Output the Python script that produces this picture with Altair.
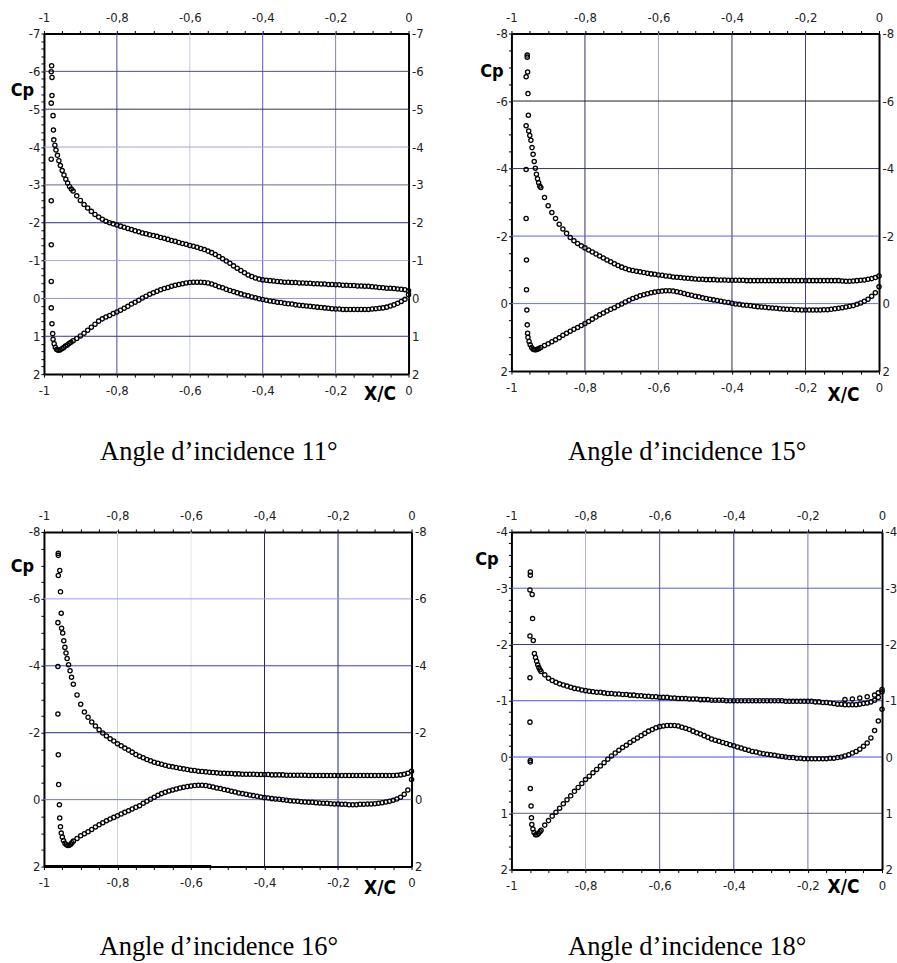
import altair as alt
import pandas as pd

# ---------------- data ----------------
XS = [-0.92, -0.91, -0.90, -0.89, -0.88, -0.87, -0.86, -0.85, -0.84, -0.83,
      -0.82, -0.81, -0.80, -0.79, -0.78, -0.77, -0.76, -0.75, -0.74, -0.73,
      -0.72, -0.71, -0.70, -0.69, -0.68, -0.67, -0.66, -0.65, -0.64, -0.63,
      -0.62, -0.61, -0.60, -0.59, -0.58, -0.57, -0.56, -0.55, -0.54, -0.53,
      -0.52, -0.51, -0.50, -0.49, -0.48, -0.47, -0.46, -0.45, -0.44, -0.43,
      -0.42, -0.41, -0.40, -0.39, -0.38, -0.37, -0.36, -0.35, -0.34, -0.33,
      -0.32, -0.31, -0.30, -0.29, -0.28, -0.27, -0.26, -0.25, -0.24, -0.23,
      -0.22, -0.21, -0.20, -0.19, -0.18, -0.17, -0.16, -0.15, -0.14, -0.13,
      -0.12, -0.11, -0.10, -0.09, -0.08, -0.07, -0.06, -0.05, -0.04, -0.03,
      -0.02, -0.01, 0.00]

# 11 deg
U11 = [-2.84, -2.71, -2.59, -2.48, -2.39, -2.30, -2.22, -2.15, -2.09, -2.04,
       -2.00, -1.97, -1.94, -1.91, -1.88, -1.85, -1.82, -1.79, -1.76, -1.73,
       -1.71, -1.68, -1.66, -1.64, -1.61, -1.59, -1.56, -1.53, -1.51, -1.48,
       -1.45, -1.43, -1.40, -1.38, -1.35, -1.32, -1.29, -1.25, -1.21, -1.16,
       -1.11, -1.05, -0.99, -0.93, -0.86, -0.80, -0.74, -0.68, -0.62, -0.58,
       -0.54, -0.51, -0.49, -0.48, -0.47, -0.46, -0.45, -0.44, -0.43, -0.43,
       -0.42, -0.42, -0.41, -0.41, -0.40, -0.40, -0.39, -0.39, -0.38, -0.38,
       -0.37, -0.37, -0.36, -0.36, -0.35, -0.35, -0.34, -0.34, -0.33, -0.33,
       -0.32, -0.32, -0.31, -0.30, -0.29, -0.28, -0.27, -0.27, -0.26, -0.25,
       -0.24, -0.23, -0.20]
L11 = [1.12, 1.06, 0.99, 0.92, 0.84, 0.76, 0.68, 0.60, 0.54, 0.49,
       0.45, 0.40, 0.36, 0.31, 0.26, 0.21, 0.15, 0.10, 0.05, -0.01,
       -0.06, -0.11, -0.15, -0.19, -0.23, -0.26, -0.29, -0.32, -0.35, -0.37,
       -0.39, -0.41, -0.42, -0.43, -0.43, -0.43, -0.42, -0.41, -0.38, -0.35,
       -0.31, -0.28, -0.24, -0.21, -0.18, -0.15, -0.12, -0.09, -0.07, -0.04,
       -0.02, 0.01, 0.03, 0.05, 0.07, 0.08, 0.10, 0.11, 0.13, 0.14,
       0.15, 0.17, 0.18, 0.19, 0.20, 0.21, 0.22, 0.23, 0.24, 0.25,
       0.26, 0.27, 0.28, 0.28, 0.29, 0.29, 0.29, 0.29, 0.29, 0.29,
       0.29, 0.29, 0.28, 0.27, 0.26, 0.25, 0.23, 0.20, 0.17, 0.13,
       0.08, 0.02, -0.10]
E11_X = [-0.979, -0.980, -0.978, -0.978, -0.980, -0.975, -0.974, -0.980, -0.980, -0.980,
         -0.980, -0.980, -0.978, -0.976,
         -0.973, -0.970, -0.967, -0.963, -0.959, -0.955, -0.950, -0.945, -0.940, -0.935,
         -0.930, -0.925,
         -0.975, -0.972, -0.969, -0.965, -0.961, -0.956, -0.951, -0.946, -0.941, -0.936,
         -0.931, -0.926]
E11_CP = [-6.15, -5.99, -5.84, -5.36, -5.16, -4.83, -4.45, -3.68, -2.58, -1.42,
          -0.45, 0.25, 0.67, 0.93,
          -4.19, -4.05, -3.92, -3.78, -3.64, -3.51, -3.38, -3.26, -3.15, -3.05,
          -2.96, -2.89,
          1.08, 1.20, 1.29, 1.35, 1.37, 1.36, 1.33, 1.30, 1.26, 1.23,
          1.19, 1.16]

# 15 deg
U15 = [-3.44, -3.14, -2.90, -2.70, -2.52, -2.35, -2.21, -2.08, -1.96, -1.86,
       -1.78, -1.71, -1.65, -1.59, -1.53, -1.47, -1.41, -1.35, -1.29, -1.24,
       -1.18, -1.13, -1.08, -1.04, -1.00, -0.98, -0.96, -0.94, -0.92, -0.90,
       -0.88, -0.87, -0.85, -0.84, -0.82, -0.81, -0.79, -0.78, -0.77, -0.76,
       -0.75, -0.74, -0.73, -0.72, -0.72, -0.71, -0.71, -0.71, -0.70, -0.70,
       -0.70, -0.69, -0.69, -0.69, -0.69, -0.69, -0.68, -0.68, -0.68, -0.68,
       -0.68, -0.68, -0.68, -0.68, -0.68, -0.68, -0.68, -0.68, -0.68, -0.68,
       -0.68, -0.68, -0.68, -0.68, -0.68, -0.68, -0.68, -0.68, -0.68, -0.68,
       -0.68, -0.68, -0.67, -0.66, -0.66, -0.67, -0.68, -0.69, -0.70, -0.72,
       -0.74, -0.77, -0.82]
L15 = [1.30, 1.24, 1.19, 1.13, 1.07, 1.01, 0.94, 0.88, 0.82, 0.76,
       0.71, 0.65, 0.59, 0.53, 0.46, 0.40, 0.33, 0.28, 0.22, 0.17,
       0.12, 0.06, 0.01, -0.05, -0.10, -0.15, -0.19, -0.23, -0.26, -0.29,
       -0.32, -0.34, -0.36, -0.37, -0.38, -0.38, -0.37, -0.35, -0.33, -0.30,
       -0.27, -0.25, -0.22, -0.20, -0.17, -0.15, -0.13, -0.11, -0.09, -0.07,
       -0.05, -0.03, -0.01, 0.01, 0.02, 0.04, 0.05, 0.06, 0.08, 0.09,
       0.10, 0.11, 0.12, 0.13, 0.14, 0.15, 0.16, 0.17, 0.17, 0.18,
       0.18, 0.19, 0.19, 0.19, 0.19, 0.19, 0.19, 0.18, 0.18, 0.17,
       0.15, 0.14, 0.12, 0.10, 0.08, 0.06, 0.02, -0.02, -0.07, -0.13,
       -0.22, -0.32, -0.50]
E15_X = [-0.957, -0.957, -0.956, -0.960, -0.955, -0.954, -0.960, -0.960, -0.960, -0.959,
         -0.959, -0.958, -0.957, -0.956,
         -0.953, -0.950, -0.947, -0.944, -0.941, -0.938, -0.935, -0.932, -0.929, -0.926,
         -0.923,
         -0.955, -0.952, -0.949, -0.945, -0.941, -0.937, -0.933, -0.929, -0.925]
E15_CP = [-7.36, -7.30, -6.86, -6.72, -6.22, -5.58, -5.27, -3.97, -2.52, -1.29,
          -0.41, 0.19, 0.63, 0.88,
          -5.11, -4.98, -4.84, -4.62, -4.42, -4.21, -4.01, -3.83, -3.70, -3.58,
          -3.48,
          1.00, 1.12, 1.22, 1.30, 1.35, 1.37, 1.37, 1.35, 1.33]

# 16 deg
U16 = [-3.45, -3.13, -2.85, -2.62, -2.46, -2.32, -2.20, -2.09, -1.99, -1.90,
       -1.82, -1.75, -1.67, -1.61, -1.54, -1.48, -1.42, -1.35, -1.30, -1.25,
       -1.20, -1.16, -1.12, -1.09, -1.06, -1.03, -1.00, -0.98, -0.96, -0.94,
       -0.92, -0.90, -0.88, -0.87, -0.85, -0.84, -0.83, -0.82, -0.81, -0.80,
       -0.79, -0.79, -0.78, -0.78, -0.77, -0.77, -0.76, -0.76, -0.76, -0.76,
       -0.75, -0.75, -0.75, -0.75, -0.74, -0.74, -0.74, -0.74, -0.73, -0.73,
       -0.73, -0.73, -0.73, -0.73, -0.72, -0.72, -0.72, -0.72, -0.72, -0.72,
       -0.72, -0.72, -0.72, -0.72, -0.72, -0.72, -0.72, -0.72, -0.72, -0.72,
       -0.72, -0.72, -0.72, -0.72, -0.72, -0.72, -0.72, -0.72, -0.73, -0.74,
       -0.76, -0.79, -0.85]
L16 = [1.24, 1.16, 1.08, 1.02, 0.96, 0.89, 0.82, 0.75, 0.69, 0.63,
       0.58, 0.53, 0.48, 0.43, 0.38, 0.33, 0.28, 0.23, 0.18, 0.11,
       0.05, -0.01, -0.07, -0.13, -0.18, -0.22, -0.26, -0.29, -0.32, -0.35,
       -0.37, -0.39, -0.41, -0.42, -0.43, -0.43, -0.42, -0.40, -0.38, -0.35,
       -0.33, -0.30, -0.28, -0.25, -0.23, -0.20, -0.18, -0.16, -0.14, -0.12,
       -0.10, -0.08, -0.06, -0.05, -0.03, -0.02, -0.01, 0.00, 0.02, 0.03,
       0.04, 0.05, 0.06, 0.07, 0.08, 0.08, 0.09, 0.10, 0.11, 0.11,
       0.12, 0.13, 0.13, 0.14, 0.14, 0.15, 0.15, 0.15, 0.14, 0.14,
       0.13, 0.13, 0.12, 0.11, 0.09, 0.07, 0.05, 0.02, -0.02, -0.07,
       -0.16, -0.29, -0.60]
E16_X = [-0.961, -0.961, -0.957, -0.961, -0.955, -0.953, -0.962, -0.962, -0.962, -0.961,
         -0.960, -0.958, -0.957, -0.955,
         -0.952, -0.949, -0.946, -0.943, -0.940, -0.937, -0.933, -0.929, -0.925,
         -0.953, -0.950, -0.947, -0.943, -0.939, -0.935, -0.931, -0.927, -0.924]
E16_CP = [-7.36, -7.30, -6.85, -6.70, -6.21, -5.57, -5.29, -3.98, -2.56, -1.34,
          -0.45, 0.15, 0.55, 0.81,
          -5.12, -4.98, -4.75, -4.55, -4.38, -4.22, -4.03, -3.85, -3.66,
          1.00, 1.12, 1.22, 1.30, 1.35, 1.37, 1.36, 1.33, 1.29]
BAR16_X = [-1.0, -0.545]

# 18 deg
U18 = [-1.52, -1.46, -1.40, -1.36, -1.33, -1.30, -1.28, -1.26, -1.24, -1.22,
       -1.21, -1.19, -1.18, -1.17, -1.16, -1.15, -1.15, -1.14, -1.13, -1.13,
       -1.12, -1.12, -1.11, -1.11, -1.10, -1.10, -1.09, -1.09, -1.08, -1.08,
       -1.07, -1.07, -1.06, -1.06, -1.06, -1.05, -1.05, -1.04, -1.04, -1.04,
       -1.03, -1.03, -1.03, -1.02, -1.02, -1.02, -1.01, -1.01, -1.01, -1.01,
       -1.00, -1.00, -1.00, -1.00, -1.00, -1.00, -1.00, -1.00, -1.00, -1.00,
       -1.00, -1.00, -1.00, -1.00, -1.00, -1.00, -0.99, -0.99, -0.99, -0.99,
       -0.99, -0.99, -0.99, -0.99, -0.98, -0.98, -0.97, -0.97, -0.96, -0.95,
       -0.94, -0.94, -0.93, -0.93, -0.93, -0.93, -0.94, -0.95, -0.96, -0.98,
       -1.01, -1.06, -1.16]
L18 = [1.30, 1.21, 1.13, 1.05, 0.98, 0.91, 0.83, 0.76, 0.69, 0.61,
       0.54, 0.47, 0.40, 0.34, 0.28, 0.22, 0.16, 0.10, 0.04, -0.02,
       -0.07, -0.12, -0.17, -0.21, -0.26, -0.30, -0.34, -0.38, -0.42, -0.46,
       -0.49, -0.52, -0.54, -0.55, -0.56, -0.56, -0.56, -0.55, -0.53, -0.51,
       -0.49, -0.46, -0.43, -0.41, -0.38, -0.35, -0.32, -0.30, -0.28, -0.26,
       -0.24, -0.22, -0.20, -0.18, -0.16, -0.14, -0.12, -0.10, -0.09, -0.07,
       -0.06, -0.05, -0.04, -0.03, -0.02, -0.01, 0.00, 0.01, 0.01, 0.02,
       0.02, 0.03, 0.03, 0.03, 0.03, 0.03, 0.03, 0.03, 0.02, 0.02,
       0.01, 0.00, -0.02, -0.04, -0.07, -0.10, -0.14, -0.19, -0.25, -0.34,
       -0.47, -0.64, -0.85]
E18_X = [-0.949, -0.949, -0.950, -0.944, -0.943, -0.950, -0.941, -0.950, -0.950, -0.949,
         -0.949, -0.949, -0.947, -0.946,
         -0.938, -0.935, -0.932, -0.929, -0.926, -0.923,
         -0.945, -0.942, -0.939, -0.935, -0.931, -0.927, -0.923,
         -0.10, -0.08, -0.06, -0.04, -0.02, -0.01, 0.00]
E18_CP = [-3.29, -3.23, -2.97, -2.89, -2.46, -2.15, -2.07, -1.41, -0.62, 0.06,
          0.09, 0.56, 0.87, 1.08,
          -1.84, -1.77, -1.70, -1.64, -1.59, -1.55,
          1.20, 1.28, 1.34, 1.38, 1.38, 1.36, 1.33,
          -1.02, -1.03, -1.05, -1.07, -1.10, -1.14, -1.20]

CAPTIONS = ["Angle d’incidence 11°", "Angle d’incidence 15°",
            "Angle d’incidence 16°", "Angle d’incidence 18°"]

# tick labels
X_LABELS = [-1, -0.8, -0.6, -0.4, -0.2, 0]
Y_LABELS_11 = [-7, -6, -5, -4, -3, -2, -1, 0, 1, 2]
Y_LABELS_15 = [-8, -6, -4, -2, 0, 2]
Y_LABELS_16 = [-8, -6, -4, -2, 0, 2]
Y_LABELS_18 = [-4, -3, -2, -1, 0, 1, 2]

PANELS = [
    dict(up=U11, lo=L11, ex=(E11_X, E11_CP), ymin=-7, ylab=Y_LABELS_11, ystep=0.2,
         gx=[-0.8, -0.6, -0.4, -0.2], gy=[-6, -5, -4, -3, -2, -1, 0, 1], cap=CAPTIONS[0]),
    dict(up=U15, lo=L15, ex=(E15_X, E15_CP), ymin=-8, ylab=Y_LABELS_15, ystep=0.5,
         gx=[-0.8, -0.6, -0.4, -0.2], gy=[-6, -4, -2, 0], cap=CAPTIONS[1]),
    dict(up=U16, lo=L16, ex=(E16_X, E16_CP), ymin=-8, ylab=Y_LABELS_16, ystep=0.5,
         gx=[-0.8, -0.6, -0.4, -0.2], gy=[-6, -4, -2, 0], cap=CAPTIONS[2]),
    dict(up=U18, lo=L18, ex=(E18_X, E18_CP), ymin=-4, ylab=Y_LABELS_18, ystep=0.2,
         gx=[-0.8, -0.6, -0.4, -0.2], gy=[-3, -2, -1, 0, 1], cap=CAPTIONS[3]),
]

# ---------------- styles ----------------
STYLE = [
    dict(w=365, h=341, gxc=["#4a4aa0", "#c8c8e4", "#5a5ac8", "#7a7ae0"],
         gyc=["#50506e", "#33335a", "#a0a0e0", "#68688c", "#2c2c8c", "#a8a8e0", "#9090e0", "#333399"],
         cp=(-22, 57), xc=(-29, 19), cap=(-7.5, 86)),
    dict(w=368, h=338, gxc=["#303070", "#a0a0b8", "#303060", "#404078"],
         gyc=["#222222", "#333366", "#6060f0", "#6a6af0"],
         cp=(-20, 38), xc=(-36, 23), cap=(-8, 89)),
    dict(w=368, h=335, gxc=["#cfcfe0", "#e4e4f0", "#22227a", "#22227a"],
         gyc=["#9c9cf0", "#3a3ab0", "#24247c", "#7070d0"],
         cp=(-22, 35), xc=(-32, 21), cap=(-9, 89)),
    dict(w=371, h=338, gxc=["#b0b0e0", "#5050b0", "#2a2ab0", "#7878a8"],
         gyc=["#5c5cc8", "#35358e", "#4a4ad0", "#4a4ae0", "#5a5a7a"],
         cp=(-25, 28), xc=(-39, 17), cap=(-9.5, 86)),
]

LABEL_FONT = "DejaVu Sans Condensed, DejaVu Sans"
TITLE_FONT = "DejaVu Sans Condensed, DejaVu Sans"

X_TICKS = [round(-1 + 0.05 * k, 2) for k in range(21)]


def lab_expr(major):
    arr = "[" + ",".join(repr(v) for v in major) + "]"
    return ("indexof(" + arr + ", datum.value) >= 0 ? "
            "replace(toString(datum.value), '.', ',') : ''")


def make_panel(p, s):
    w, h = s["w"], s["h"]
    xs = alt.Scale(domain=[-1, 0], nice=False, zero=False)
    ys = alt.Scale(domain=[p["ymin"], 2], nice=False, zero=False, reverse=True)
    n = int(round((2 - p["ymin"]) / p["ystep"]))
    y_ticks = [round(p["ymin"] + p["ystep"] * k, 2) for k in range(n + 1)]

    rows = [{"xc": x, "cp": c} for x, c in zip(XS, p["up"])]
    rows += [{"xc": x, "cp": c} for x, c in zip(XS, p["lo"])]
    rows += [{"xc": x, "cp": c} for x, c in zip(p["ex"][0], p["ex"][1])]
    df = pd.DataFrame(rows)

    common = dict(domainColor="black", domainWidth=2, tickColor="black", tickWidth=1,
                  labelFont=LABEL_FONT, labelFontSize=13, labelColor="#222222",
                  labelOverlap=False, labelFlush=False, grid=False)

    ax_bottom = alt.Axis(orient="bottom", values=X_TICKS, labelExpr=lab_expr(X_LABELS),
                         tickSize=3, labelPadding=7, title="X/C",
                         titleX=w + s["xc"][0], titleY=s["xc"][1], titleAlign="center",
                         titleBaseline="middle", titleFont=TITLE_FONT, titleFontWeight="bold",
                         titleFontSize=19, titleColor="black", **common)
    ax_top = alt.Axis(orient="top", values=X_TICKS, labelExpr=lab_expr(X_LABELS),
                      tickSize=3, labelPadding=6, title=None, **common)
    ax_left = alt.Axis(orient="left", values=y_ticks, labelExpr=lab_expr(p["ylab"]),
                       tickSize=3, labelPadding=1, title="Cp", titleAngle=0,
                       titleX=s["cp"][0], titleY=s["cp"][1], titleAlign="center",
                       titleBaseline="middle", titleFont=TITLE_FONT, titleFontWeight="bold",
                       titleFontSize=18, titleColor="black", **common)
    ax_right = alt.Axis(orient="right", values=y_ticks, labelExpr=lab_expr(p["ylab"]),
                        ticks=False, labelPadding=3, title=None, **common)

    gx = pd.DataFrame({"v": p["gx"], "c": s["gxc"]})
    gy = pd.DataFrame({"v": p["gy"], "c": s["gyc"]})

    grid_x = alt.Chart(gx).mark_rule(strokeWidth=1).encode(
        x=alt.X("v:Q", scale=xs, axis=None), color=alt.Color("c:N", scale=None))
    grid_y = alt.Chart(gy).mark_rule(strokeWidth=1).encode(
        y=alt.Y("v:Q", scale=ys, axis=None), color=alt.Color("c:N", scale=None))

    pts = alt.Chart(df).mark_point(shape="circle", filled=False, color="black",
                                   size=18, strokeWidth=1.3, opacity=1).encode(
        x=alt.X("xc:Q", scale=xs, axis=ax_bottom),
        y=alt.Y("cp:Q", scale=ys, axis=ax_left))
    axes2 = alt.Chart(df).mark_point(opacity=0, size=1).encode(
        x=alt.X("xc:Q", scale=xs, axis=ax_top),
        y=alt.Y("cp:Q", scale=ys, axis=ax_right))

    cap = alt.Chart(pd.DataFrame({"t": [p["cap"]]})).mark_text(
        font="Liberation Serif", fontSize=26.5, color="black", align="center",
        baseline="alphabetic").encode(
        text="t:N", x=alt.value(w / 2 + s["cap"][0]), y=alt.value(h + s["cap"][1]))

    layers = [grid_x, grid_y, pts, axes2, cap]
    if p is PANELS[2]:
        bar = alt.Chart(pd.DataFrame({"a": [BAR16_X[0]], "b": [BAR16_X[1]], "y": [2]})).mark_rule(
            strokeWidth=3, color="black").encode(
            x=alt.X("a:Q", scale=xs, axis=None), x2="b:Q",
            y=alt.Y("y:Q", scale=ys, axis=None))
        layers.insert(3, bar)

    return alt.layer(*layers).properties(width=w, height=h).resolve_scale(
        x="shared", y="shared").resolve_axis(x="independent", y="independent")


panels = [make_panel(p, s) for p, s in zip(PANELS, STYLE)]

chart = alt.concat(*panels, columns=2, spacing={"row": 158, "column": 100},
                   bounds="flush").properties(
    padding={"left": 10, "top": 11, "right": 0, "bottom": 0},
    background="white",
).configure_view(stroke=None)

chart.save("out.html", embed_options={"renderer": "svg", "actions": False})
